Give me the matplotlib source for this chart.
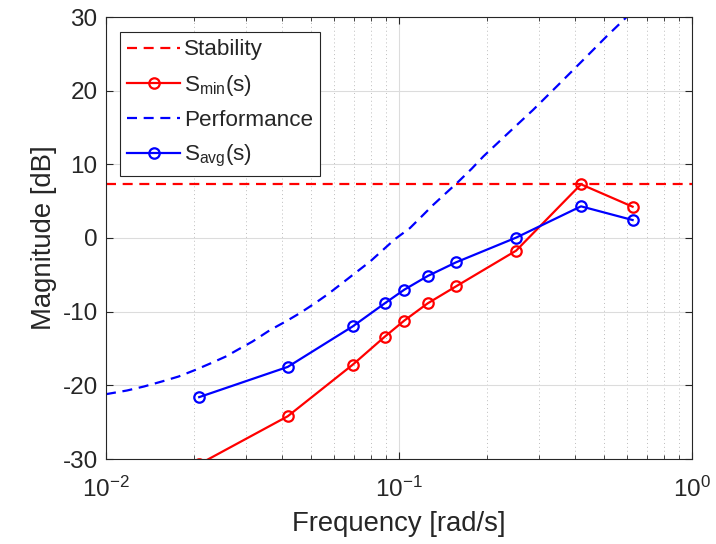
import numpy as np
import matplotlib
matplotlib.use("Agg")
import matplotlib.pyplot as plt
from matplotlib.ticker import LogLocator, NullFormatter, FixedLocator

plt.rcParams["font.family"] = ["Liberation Sans", "DejaVu Sans"]
plt.rcParams["mathtext.fontset"] = "custom"
plt.rcParams["mathtext.rm"] = "Liberation Sans"
plt.rcParams["mathtext.it"] = "Liberation Sans"
plt.rcParams["mathtext.default"] = "regular"
plt.rcParams["axes.unicode_minus"] = False

# --- data ---
freq = [0.0208, 0.0417, 0.0695, 0.0894, 0.1043, 0.1253, 0.1566, 0.251, 0.418, 0.627]
s_min = [-30.7, -24.2, -17.2, -13.4, -11.2, -8.87, -6.56, -1.72, 7.29, 4.25]
s_avg = [-21.6, -17.5, -12.0, -8.87, -7.01, -5.16, -3.30, 0.05, 4.30, 2.44]

stability_db = 7.3

perf_freq = [0.01, 0.0118, 0.0135, 0.0156, 0.0177, 0.0202, 0.0228, 0.0256,
             0.0288, 0.0316, 0.0363, 0.0414, 0.0459, 0.0517, 0.0574, 0.0629,
             0.0708, 0.0797, 0.0969, 0.109, 0.1195, 0.131, 0.1455, 0.159,
             0.177, 0.194, 0.236, 0.287, 0.350, 0.426, 0.512, 0.575, 0.598]
perf_db = [-21.2, -20.7, -20.15, -19.45, -18.8, -17.9, -17.0, -16.1,
           -14.95, -14.06, -12.5, -11.25, -10.2, -8.85, -7.58, -6.36,
           -4.77, -3.19, -0.15, 1.35, 2.93, 4.52, 6.19, 7.6,
           9.4, 11.07, 14.25, 17.4, 20.8, 24.2, 27.4, 29.33, 30.0]

labels = ["Stability", "S$_{min}$(s)", "Performance", "S$_{avg}$(s)"]
xticks = [0.01, 0.1, 1]
xtick_labels = ["$10^{-2}$", "$10^{-1}$", "$10^{0}$"]
yticks = [-30, -20, -10, 0, 10, 20, 30]

# --- figure ---
fig = plt.figure(figsize=(7.16, 5.44), dpi=100)
ax = fig.add_axes([106 / 716, 1 - 459 / 544, 586 / 716, 442 / 544])

dash = (0, (4.5, 3))
ax.axhline(stability_db, color="red", lw=1.6, ls=dash, label=labels[0])
ax.plot(freq, s_min, color="red", lw=1.6, marker="o", ms=7.5, mfc="none",
        mew=1.6, label=labels[1])
ax.plot(perf_freq, perf_db, color="blue", lw=1.6, ls=dash, label=labels[2])
ax.plot(freq, s_avg, color="blue", lw=1.6, marker="o", ms=7.5, mfc="none",
        mew=1.6, label=labels[3])

ax.set_xscale("log")
ax.set_xlim(0.01, 1)
ax.set_ylim(-30, 30)
ax.xaxis.set_major_locator(FixedLocator(xticks))
ax.set_xticklabels(xtick_labels)
ax.xaxis.set_minor_locator(LogLocator(base=10, subs=np.arange(2, 10)))
ax.xaxis.set_minor_formatter(NullFormatter())
ax.set_yticks(yticks)

ax.grid(True, which="major", color="#dcdcdc", lw=0.8)
ax.grid(True, which="minor", axis="x", color="#bdbdbd", lw=0.7, ls=(0, (1, 3)))
ax.set_axisbelow(True)

ax.tick_params(which="both", direction="in", top=True, right=True,
               colors="#262626", labelcolor="#262626")
ax.tick_params(which="major", length=5, width=0.8, labelsize=17.5)
ax.tick_params(which="minor", length=3, width=0.6)
ax.tick_params(axis="x", pad=13)
ax.tick_params(axis="y", pad=6)
for s in ax.spines.values():
    s.set_color("#262626")
    s.set_linewidth(0.8)

ax.set_xlabel("Frequency [rad/s]", fontsize=19.8, color="#262626", labelpad=6)
ax.set_ylabel("Magnitude [dB]", fontsize=19.8, color="#262626", labelpad=4)

leg = ax.legend(loc="upper left", bbox_to_anchor=(14 / 586, 1 - 15 / 442),
                borderaxespad=0, fontsize=16.2, frameon=True, fancybox=False,
                edgecolor="#262626", framealpha=1, handlelength=2.35,
                handletextpad=0.15, labelspacing=0.54, borderpad=0.33)
leg.get_frame().set_linewidth(0.8)
for t in leg.get_texts():
    t.set_color("#262626")

fig.savefig("out.png", dpi=100)
